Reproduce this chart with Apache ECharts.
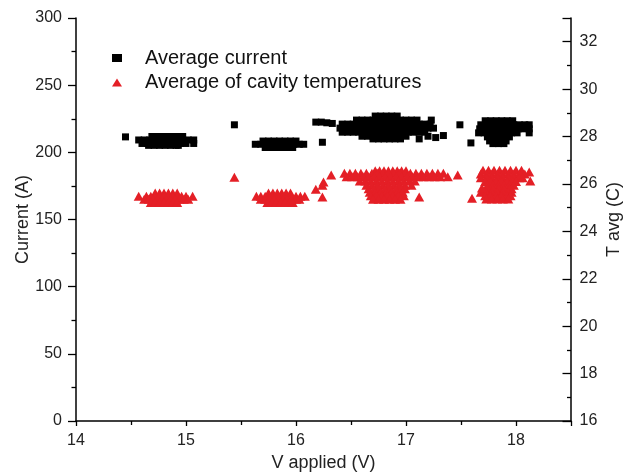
<!DOCTYPE html>
<html>
<head>
<meta charset="utf-8">
<title>Current and cavity temperature vs applied voltage</title>
<script src="https://cdn.jsdelivr.net/npm/echarts@6/dist/echarts.min.js"></script>
<style>
  html, body { margin: 0; padding: 0; background: #fff; }
  #chart { width: 630px; height: 474px; }
</style>
</head>
<body>
<div id="chart"></div>
<script>
// 平均电流 (A)，每行: [y, [x, x, ...]]
const currentRows = [
  [211.8, [14.69, 14.74, 14.79, 14.84, 14.89, 14.94, 14.97]],
  [209.2, [14.57, 14.62, 14.67, 14.72, 14.77, 14.82, 14.87, 14.92, 14.97, 15.02, 15.07]],
  [206.6, [14.60, 14.65, 14.70, 14.75, 14.80, 14.85, 14.90, 14.95, 15.00, 15.07]],
  [205.2, [14.66, 14.71, 14.76, 14.81, 14.86, 14.91, 14.93]],

  [208.4, [15.70, 15.75, 15.80, 15.85, 15.90, 15.95, 16.00]],
  [206.0, [15.63, 15.68, 15.73, 15.78, 15.83, 15.88, 15.93, 15.98, 16.03, 16.07]],
  [203.6, [15.72, 15.77, 15.82, 15.87, 15.92, 15.97]],

  [227,   [16.72, 16.77, 16.82, 16.87, 16.92]],
  [224,   [16.55, 16.60, 16.65, 16.70, 16.75, 16.80, 16.85, 16.90, 16.95, 17.00, 17.05, 17.10, 17.23]],
  [221,   [16.42, 16.47, 16.52, 16.57, 16.62, 16.67, 16.72, 16.77, 16.82, 16.87, 16.92, 16.97, 17.02, 17.07, 17.12, 17.17, 17.22]],
  [218,   [16.40, 16.45, 16.50, 16.55, 16.60, 16.65, 16.70, 16.75, 16.80, 16.85, 16.90, 16.95, 17.00, 17.05, 17.10, 17.15, 17.20, 17.25]],
  [215,   [16.42, 16.47, 16.52, 16.57, 16.62, 16.67, 16.72, 16.77, 16.82, 16.87, 16.92, 16.97, 17.02, 17.07, 17.12, 17.17]],
  [212,   [16.60, 16.65, 16.70, 16.75, 16.80, 16.85, 16.90, 16.95, 17.00, 17.20]],
  [210,   [16.70, 16.75, 16.80, 16.85, 16.90, 16.95, 17.12]],

  [223.5, [17.72, 17.77, 17.82, 17.87, 17.92, 17.97]],
  [220.5, [17.68, 17.73, 17.78, 17.83, 17.88, 17.93, 17.98, 18.03, 18.08, 18.12]],
  [217.5, [17.67, 17.72, 17.77, 17.82, 17.87, 17.92, 17.97, 18.02, 18.07, 18.12]],
  [214.5, [17.66, 17.71, 17.76, 17.81, 17.86, 17.91, 17.96, 18.01, 18.12]],
  [211.5, [17.74, 17.79, 17.84, 17.89, 17.94]],
  [208.5, [17.76, 17.81, 17.86, 17.91]],
  [206.5, [17.79, 17.84, 17.89]]
];
const currentSingles = [
  [14.45, 211.5], [15.44, 220.5], [16.18, 222.5], [16.23, 222.5], [16.28, 222],
  [16.33, 221.5], [16.24, 207.5], [17.27, 211], [17.34, 212.5], [17.49, 220.5],
  [17.59, 207]
];

// 腔体平均温度 (C)，每行: [T, [x, x, ...]]
const tempRows = [
  [25.62, [14.72, 14.76, 14.80, 14.84, 14.88, 14.92]],
  [25.48, [14.57, 14.64, 14.68, 14.72, 14.76, 14.80, 14.84, 14.88, 14.92, 14.96, 15.00, 15.06]],
  [25.35, [14.62, 14.66, 14.70, 14.74, 14.78, 14.82, 14.86, 14.90, 14.94, 14.98, 15.02]],
  [25.22, [14.68, 14.72, 14.76, 14.80, 14.84, 14.88, 14.92]],

  [25.62, [15.75, 15.79, 15.83, 15.87, 15.91, 15.95]],
  [25.48, [15.64, 15.68, 15.72, 15.76, 15.80, 15.84, 15.88, 15.92, 15.96, 16.00, 16.04, 16.08]],
  [25.35, [15.68, 15.72, 15.76, 15.80, 15.84, 15.88, 15.92, 15.96, 16.00, 16.03]],
  [25.22, [15.74, 15.78, 15.82, 15.86, 15.90, 15.94, 15.97]],

  [26.56, [16.72, 16.76, 16.80, 16.84, 16.88, 16.92, 16.96, 17.00]],
  [26.45, [16.44, 16.49, 16.54, 16.59, 16.64, 16.69, 16.74, 16.79, 16.84, 16.89, 16.94, 16.99, 17.04, 17.09, 17.14, 17.19, 17.24, 17.29, 17.34]],
  [26.30, [16.46, 16.51, 16.56, 16.61, 16.66, 16.71, 16.76, 16.81, 16.86, 16.91, 16.96, 17.01, 17.06, 17.11, 17.16, 17.21, 17.26, 17.31]],
  [26.12, [16.58, 16.63, 16.68, 16.73, 16.78, 16.83, 16.88, 16.93, 16.98, 17.03, 17.08]],
  [25.95, [16.64, 16.69, 16.74, 16.79, 16.84, 16.89, 16.94, 16.99]],
  [25.80, [16.66, 16.71, 16.76, 16.81, 16.86, 16.91, 16.96, 16.99]],
  [25.65, [16.67, 16.72, 16.77, 16.82, 16.87, 16.92, 16.97]],
  [25.50, [16.68, 16.73, 16.78, 16.83, 16.88, 16.93, 16.98]],
  [25.35, [16.70, 16.75, 16.80, 16.85, 16.90, 16.95]],

  [26.58, [17.70, 17.75, 17.80, 17.85, 17.90, 17.95, 18.00, 18.05]],
  [26.42, [17.68, 17.73, 17.78, 17.83, 17.88, 17.93, 17.98, 18.03, 18.08]],
  [26.26, [17.68, 17.73, 17.78, 17.83, 17.88, 17.93, 17.98, 18.03, 18.06]],
  [26.10, [17.72, 17.77, 17.82, 17.87, 17.92, 17.97, 18.00]],
  [25.95, [17.74, 17.79, 17.84, 17.89, 17.94, 17.98]],
  [25.80, [17.74, 17.79, 17.84, 17.89, 17.94, 17.96]],
  [25.65, [17.68, 17.73, 17.78, 17.83, 17.88, 17.93, 17.96]],
  [25.50, [17.72, 17.77, 17.82, 17.87, 17.92, 17.95]],
  [25.36, [17.73, 17.78, 17.83, 17.88, 17.93]]
];
const tempSingles = [
  [15.44, 26.28], [16.18, 25.78], [16.24, 25.95], [16.24, 25.45], [16.32, 26.38],
  [16.25, 26.08], [17.05, 25.95], [17.12, 25.45], [17.38, 26.30], [17.47, 26.38],
  [17.60, 25.40], [17.69, 25.83], [18.12, 26.50], [18.13, 26.12]
];

const xTicks = { min: 14, max: 18.5, interval: 1 };
const leftTicks = { min: 0, max: 300, interval: 50 };
const rightTicks = { min: 16, max: 33, interval: 2 };

function rowsToPoints(rows, singles) {
  let pts = [];
  rows.forEach(r => r[1].forEach(x => pts.push([x, r[0]])));
  return pts.concat(singles);
}

const FONT = 'Liberation Sans, Arial, sans-serif';
const TXT = '#222';

// 各坐标轴共用样式，刻度长度单独给
function axisStyle(tickLen, minorLen, inside) {
  return {
    axisLine: { show: true, onZero: false, lineStyle: { color: '#000', width: 1.5 } },
    axisTick: { show: true, inside: inside, length: tickLen, lineStyle: { color: '#000', width: 1.3 } },
    minorTick: { show: true, splitNumber: 2, length: minorLen, lineStyle: { color: '#000', width: 1.3 } },
    splitLine: { show: false },
    nameMoveOverlap: false,
    nameTextStyle: { fontFamily: FONT, fontSize: 18, color: TXT }
  };
}

let chart = echarts.init(document.getElementById('chart'));
let option = {
  animation: false,
  backgroundColor: '#fff',
  grid: { left: 76, right: 59, top: 18, bottom: 53, containLabel: false, outerBoundsMode: 'none' },
  legend: {
    orient: 'vertical',
    left: 107,
    top: 43,
    itemWidth: 10,
    itemHeight: 8,
    itemGap: 4.5,
    formatter: '{t|{name}}',
    textStyle: {
      fontFamily: FONT, fontSize: 20, color: '#111',
      rich: { t: { fontFamily: FONT, fontSize: 20, color: '#111', padding: [0, 0, 0, 18] } }
    },
    data: ['Average current', 'Average of cavity temperatures']
  },
  xAxis: Object.assign(axisStyle(5, 4, false), {
    type: 'value',
    min: xTicks.min, max: xTicks.max, interval: xTicks.interval,
    name: 'V applied (V)', nameLocation: 'middle', nameGap: 33,
    axisLabel: { fontFamily: FONT, fontSize: 16, color: TXT, margin: 12, showMaxLabel: false }
  }),
  yAxis: [
    Object.assign(axisStyle(8, 4.5, false), {
      type: 'value', position: 'left',
      min: leftTicks.min, max: leftTicks.max, interval: leftTicks.interval,
      name: 'Current (A)', nameLocation: 'middle', nameGap: 44, nameRotate: 90,
      axisLabel: { fontFamily: FONT, fontSize: 16, color: TXT, margin: 14 }
    }),
    Object.assign(axisStyle(8.5, 4, true), {
      type: 'value', position: 'right',
      min: rightTicks.min, max: rightTicks.max, interval: rightTicks.interval,
      name: 'T avg (C)', nameLocation: 'middle', nameGap: 34, nameRotate: 90,
      axisLabel: { fontFamily: FONT, fontSize: 16, color: TXT, margin: 8.5, showMaxLabel: false }
    })
  ],
  series: [
    {
      name: 'Average current',
      type: 'scatter',
      yAxisIndex: 0,
      symbol: 'rect',
      symbolSize: 7,
      itemStyle: { color: '#000', opacity: 1 },
      data: rowsToPoints(currentRows, currentSingles)
    },
    {
      name: 'Average of cavity temperatures',
      type: 'scatter',
      yAxisIndex: 1,
      symbol: 'triangle',
      symbolSize: [10, 9],
      itemStyle: { color: '#e41f26', opacity: 1 },
      data: rowsToPoints(tempRows, tempSingles)
    }
  ]
};
chart.setOption(option);
</script>
</body>
</html>
